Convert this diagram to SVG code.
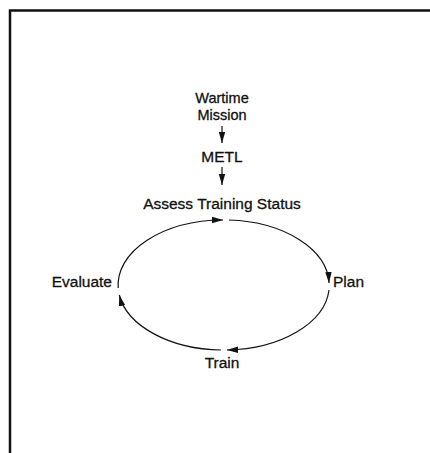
<svg xmlns="http://www.w3.org/2000/svg" width="430" height="453" viewBox="0 0 430 453">
<style>
.t{font-family:"Liberation Sans",Arial,sans-serif;font-size:15.5px;fill:#111;stroke:#111;stroke-width:0.3;text-anchor:middle}
.s{font-size:14.5px}
.c{fill:none;stroke:#111;stroke-width:1.2}
.b{fill:none;stroke:#111;stroke-width:2.5}
</style>
<defs>
<marker id="ah" markerUnits="userSpaceOnUse" markerWidth="12" markerHeight="8" refX="11" refY="4" orient="auto">
<path d="M0,0.8 L11,4 L0,7.2 Z" fill="#111"/>
</marker>
</defs>
<rect width="430" height="453" fill="#fff"/>
<g id="frame">
<path class="b" d="M10,453 V10.5 H430"/>
</g>
<g id="connectors">
<line class="c" x1="222" y1="126" x2="222" y2="143" marker-end="url(#ah)"/>
<line class="c" x1="222" y1="167" x2="222" y2="185" marker-end="url(#ah)"/>
<path class="c" d="M229,220 A105.5,65 0 0 1 329,283" marker-end="url(#ah)"/>
<path class="c" d="M329,290 A105.5,65 0 0 1 227,350" marker-end="url(#ah)"/>
<path class="c" d="M221,350 A105.5,65 0 0 1 119.3,295" marker-end="url(#ah)"/>
<path class="c" d="M118.2,288 A105.5,65 0 0 1 223,220" marker-end="url(#ah)"/>
</g>
<g id="wartime-mission"><text class="t s" x="222" y="103">Wartime</text><text class="t s" x="222" y="120">Mission</text></g>
<g id="metl"><text class="t" x="222" y="162">METL</text></g>
<g id="assess"><text class="t" x="222" y="209">Assess Training Status</text></g>
<g id="plan"><text class="t" x="333" y="287" style="text-anchor:start">Plan</text></g>
<g id="train"><text class="t" x="222" y="368">Train</text></g>
<g id="evaluate"><text class="t" x="112" y="287" style="text-anchor:end">Evaluate</text></g>
</svg>
